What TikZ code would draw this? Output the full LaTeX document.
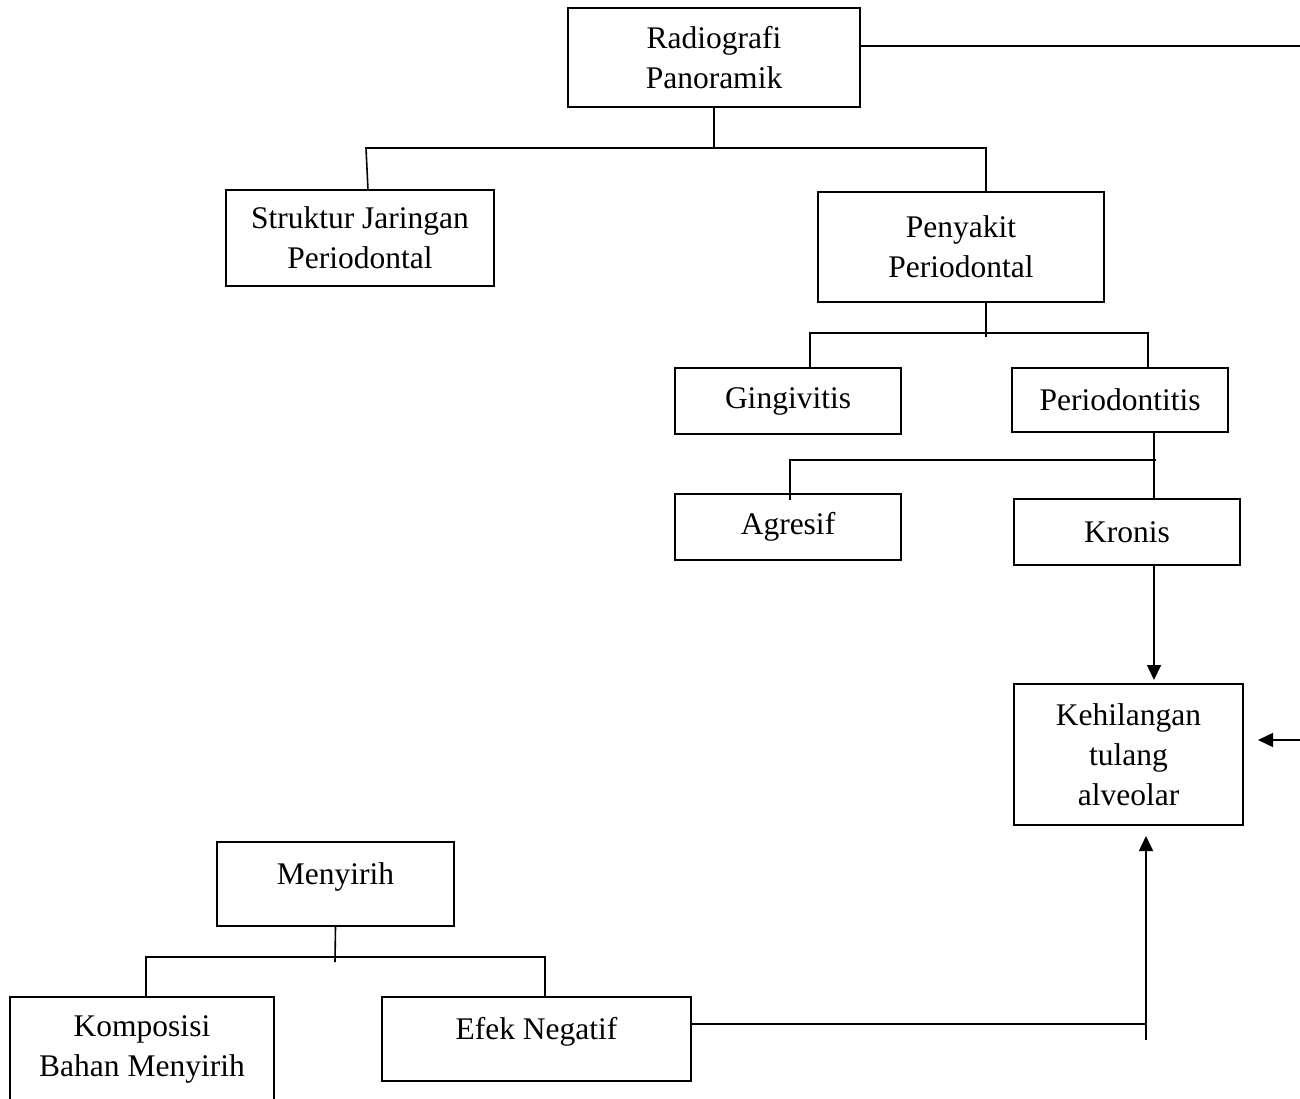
\documentclass[tikz,border=0pt]{standalone}
\usepackage{fontspec}
\setmainfont{Liberation Serif}
\usepackage{tikz}
\usetikzlibrary{arrows.meta}
\usetikzlibrary{positioning}

\begin{document}
\begin{tikzpicture}[x=1pt,y=-1pt,line width=1.6pt,
    box/.style={draw,rectangle,align=center,inner sep=0pt,font=\fontsize{31.5}{40}\selectfont},
    lowbox/.style={box,text height=20pt,text depth=20pt},
    arr/.style={-{Triangle[length=15pt,width=14pt]}}]
          \useasboundingbox (0,0) rectangle (1300,1099);
          % boxes
          \node[box,minimum width=292pt,minimum height=99pt] (radio) at (714,57.5) {Radiografi\\Panoramik};
          \node[box,minimum width=268pt,minimum height=96pt] (struktur) at (360,238) {Struktur Jaringan\\Periodontal};
          \node[box,minimum width=286pt,minimum height=110pt] (penyakit) at (961,247) {Penyakit\\Periodontal};
          \node[box,minimum width=226pt,minimum height=66pt] (gingi) at (788,401) {Gingivitis};
          \node[box,minimum width=216pt,minimum height=64pt] (perio) at (1120,400) {Periodontitis};
          \node[box,minimum width=226pt,minimum height=66pt] (agresif) at (788,527) {Agresif};
          \node[box,minimum width=226pt,minimum height=66pt] (kronis) at (1127,532) {Kronis};
          \node[box,minimum width=229pt,minimum height=141pt] (tulang) at (1128.5,754.5) {Kehilangan\\tulang\\alveolar};
          \node[lowbox,minimum width=237pt,minimum height=84pt] (sirih) at (335.5,884) {Menyirih};
          \node[box,minimum width=264pt,minimum height=104pt] (komposisi) at (142,1049) {Komposisi\\Bahan Menyirih};
          \node[lowbox,minimum width=309pt,minimum height=84pt] (efek) at (536.5,1039) {Efek Negatif};
          % junctions
          \coordinate (j1l) at (366,148);
          \coordinate (j1r) at (986,148);
          \coordinate (j2l) at (810,333);
          \coordinate (j2r) at (1148,333);
          \coordinate (j3l) at (790,460);
          \coordinate (j3r) at (1156,460);
          \coordinate (j4l) at (146,957);
          \coordinate (j4r) at (545,957);
          \coordinate (j5) at (1146,1024);
          \coordinate (topend) at (1300,46);
          \coordinate (sidein) at (1300,740);
          % tree lines
          \draw (radio.south) -- (radio.south |- j1l);
          \draw (368,190) -- (j1l) -- (j1r) -- (penyakit.north -| j1r);
          \draw (986,302) -- (986,337);
          \draw (gingi.north -| j2l) -- (j2l) -- (j2r) -- (perio.north -| j2r);
          \draw (1154,432) -- (1154,499);
          \draw (790,500) -- (j3l) -- (j3r);
          \draw (sirih.south) -- (335,962);
          \draw (komposisi.north -| j4l) -- (j4l) -- (j4r) -- (efek.north -| j4r);
          % arrows
          \draw[arr] (kronis.south -| 1154,0) -- (1154,680);
          \draw (efek.east |- j5) -- (j5);
          \draw[arr] (1146,1040) -- (1146,836);
          \draw[arr] (sidein) -- (1258,740);
          \draw (radio.east |- topend) -- (topend);
\end{tikzpicture}
\end{document}
